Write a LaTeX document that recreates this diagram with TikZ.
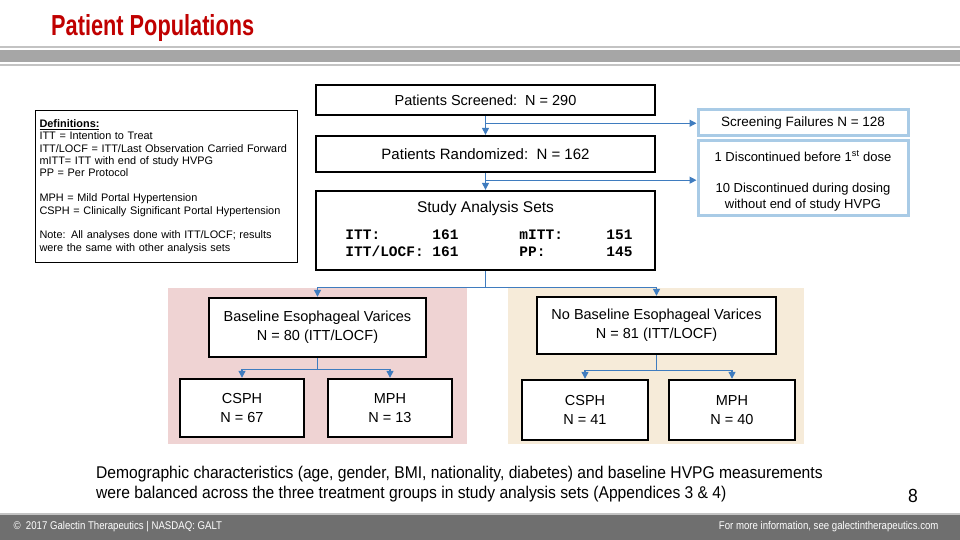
\documentclass[tikz,border=0pt]{standalone}
\usepackage{fontspec}
\usepackage{xcolor}
\usepackage{tikz}
\usetikzlibrary{arrows.meta, positioning, calc}
\setmainfont{Liberation Sans}
\setmonofont{Liberation Mono}
\newfontfamily\narrowfont[FakeStretch=0.92]{Liberation Sans}
\newfontfamily\footfont[FakeStretch=0.86]{Liberation Sans}
\newfontfamily\titlefont[FakeStretch=0.75]{Liberation Sans}
\definecolor{gal-red}{HTML}{C00000}
\definecolor{gal-blue}{HTML}{3F7CBF}
\definecolor{gal-sky}{HTML}{A9CBE6}
\definecolor{gal-pink}{HTML}{EFD3D3}
\definecolor{gal-sand}{HTML}{F6EBD9}
\definecolor{gal-bar}{HTML}{A6A6A6}
\definecolor{gal-line}{HTML}{C3C3C3}
\definecolor{gal-foot}{HTML}{6F6F6F}

\begin{document}
\begin{tikzpicture}[x=1pt, y=-1pt,
			mainbox/.style={
				draw=black, line width=2.3pt, fill=white,
				minimum width=339pt, align=center,
				font=\fontsize{14.5}{17}\selectfont
			},
			sidebox/.style={
				draw=gal-sky, line width=3pt, fill=white,
				minimum width=210pt, align=center,
				font=\fontsize{13.5}{16}\selectfont
			},
			groupbox/.style={
				draw=black, line width=2.4pt, fill=white,
				align=center, inner sep=0pt,
				font=\fontsize{14.5}{19}\selectfont
			},
			flow/.style={
				draw=gal-blue, line width=1.2pt,
				-{Triangle[width=7pt,length=7pt]}
			},
			link/.style={draw=gal-blue, line width=1.2pt}
			]
			
			\useasboundingbox (0,0) rectangle (960,540);
			
			% header and footer
			\node[anchor=west, text=gal-red, font=\titlefont\bfseries\fontsize{29}{32}\selectfont, inner sep=0pt] (title) at (51,28) {Patient Populations};
			\fill[gal-line] (0,46) rectangle (960,48);
			\fill[gal-bar] (0,50) rectangle (960,62);
			\fill[gal-line] (0,64.5) rectangle (960,66.5);
			\fill[gal-foot] (0,514) rectangle (960,540);
			\fill[gal-line] (0,513) rectangle (960,514.5);
			\node[anchor=west, text=white, font=\footfont\fontsize{11.2}{13}\selectfont] (copy) at (10,527) {\textcopyright\ \ 2017 Galectin Therapeutics | NASDAQ: GALT};
			\node[anchor=east, text=white, font=\footfont\fontsize{11.2}{13}\selectfont] (web) at (942,527) {For more information, see galectintherapeutics.com};
			
			% subgroup panels
			\fill[gal-pink] (168,288) rectangle (467,444);
			\fill[gal-sand] (508,288) rectangle (804,444);
			
			% definitions
			\node[draw=black, line width=1.1pt, anchor=north west, text width=254pt,
			inner xsep=4pt, inner ysep=6pt, minimum height=152pt, align=left,
			font=\fontsize{10.9}{12.4}\selectfont] (defs) at (35,110)
			{\textbf{\underline{Definitions:}}\\
				ITT = Intention to Treat\\
				ITT/LOCF = ITT/Last Observation Carried Forward\\
				mITT= ITT with end of study HVPG\\
				PP = Per Protocol\\[12.4pt]
				MPH = Mild Portal Hypertension\\
				CSPH = Clinically Significant Portal Hypertension\\[12.4pt]
				Note: All analyses done with ITT/LOCF; results\\
				were the same with other analysis sets};
			
			% main flow
			\node[mainbox, minimum height=30pt] (screened) at (485.5,100) {Patients Screened:~~N = 290};
			\node[mainbox, minimum height=36pt, font=\fontsize{15}{17}\selectfont] (randomized) at (485.5,154) {Patients Randomized:~~N = 162};
			\node[mainbox, minimum height=79pt] (study) at (485.5,230.5) {};
			\node[font=\fontsize{15.5}{18}\selectfont] (studytitle) at (485.5,208) {Study Analysis Sets};
			\node[font=\ttfamily\bfseries\fontsize{14.5}{17}\selectfont, inner sep=0pt] (studysets) at (489,245)
			{\begin{tabular}{@{}p{87pt}@{}p{87pt}@{}p{87pt}@{}l@{}}
					ITT: & 161 & mITT: & 151\\
					ITT/LOCF: & 161 & PP: & 145
			\end{tabular}};
			
			\node[sidebox, minimum height=26pt] (failures) at (803,123) {Screening Failures N = 128};
			\node[sidebox, minimum width=210pt, minimum height=74pt] (discont) at (803,178) {};
			\node[font=\fontsize{13}{15.5}\selectfont, align=center] (discontnote) at (803,181)
			{1 Discontinued before 1\textsuperscript{st} dose\\[16pt]
				10 Discontinued during dosing\\without end of study HVPG};
			
			\draw[flow] (screened.south) -- (randomized.north);
			\coordinate (split1) at ($(screened.south)!0.38!(randomized.north)$);
			\draw[flow] (split1) -- (failures.west |- split1);
			\draw[flow] (randomized.south) -- (study.north);
			\coordinate (split2) at ($(randomized.south)!0.42!(study.north)$);
			\draw[flow] (split2) -- (discont.west |- split2);
			
			% baseline varices groups
			\node[groupbox, minimum width=217pt, minimum height=59pt] (base) at (317.5,327.5)
			{Baseline Esophageal Varices\\N = 80 (ITT/LOCF)};
			\node[groupbox, minimum width=239pt, minimum height=57pt] (nobase) at (656.5,325.5)
			{No Baseline Esophageal Varices\\N = 81 (ITT/LOCF)};
			
			\coordinate (hub) at ($(study.south)+(0,16)$);
			\draw[link] (study.south) -- (hub);
			\draw[flow] (hub) -| (base.north);
			\draw[flow] (hub) -| (nobase.north);
			
			\node[groupbox, minimum width=124pt, minimum height=58pt] (cspha) at (242,408) {CSPH\\N = 67};
			\node[groupbox, minimum width=124pt, minimum height=58pt] (mpha) at (390,408) {MPH\\N = 13};
			\node[groupbox, minimum width=126pt, minimum height=60pt] (csphb) at (585,410) {CSPH\\N = 41};
			\node[groupbox, minimum width=126pt, minimum height=60pt] (mphb) at (732,410) {MPH\\N = 40};
			
			\coordinate (hubA) at ($(base.south)+(0,11)$);
			\draw[link] (base.south) -- (hubA);
			\draw[flow] (hubA) -| (cspha.north);
			\draw[flow] (hubA) -| (mpha.north);
			\coordinate (hubB) at ($(nobase.south)+(0,15)$);
			\draw[link] (nobase.south) -- (hubB);
			\draw[flow] (hubB) -| (csphb.north);
			\draw[flow] (hubB) -| (mphb.north);
			
			% note and page number
			\node[anchor=north west, align=left, inner sep=0pt, font=\narrowfont\fontsize{17}{20}\selectfont] (summary) at (96,466)
			{Demographic characteristics (age, gender, BMI, nationality, diabetes) and baseline HVPG measurements\\
				were balanced across the three treatment groups in study analysis sets (Appendices 3 \& 4)};
			\node[font=\narrowfont\fontsize{19}{22}\selectfont] (pagenum) at (913,496) {8};
			
		\end{tikzpicture}
\end{document}
